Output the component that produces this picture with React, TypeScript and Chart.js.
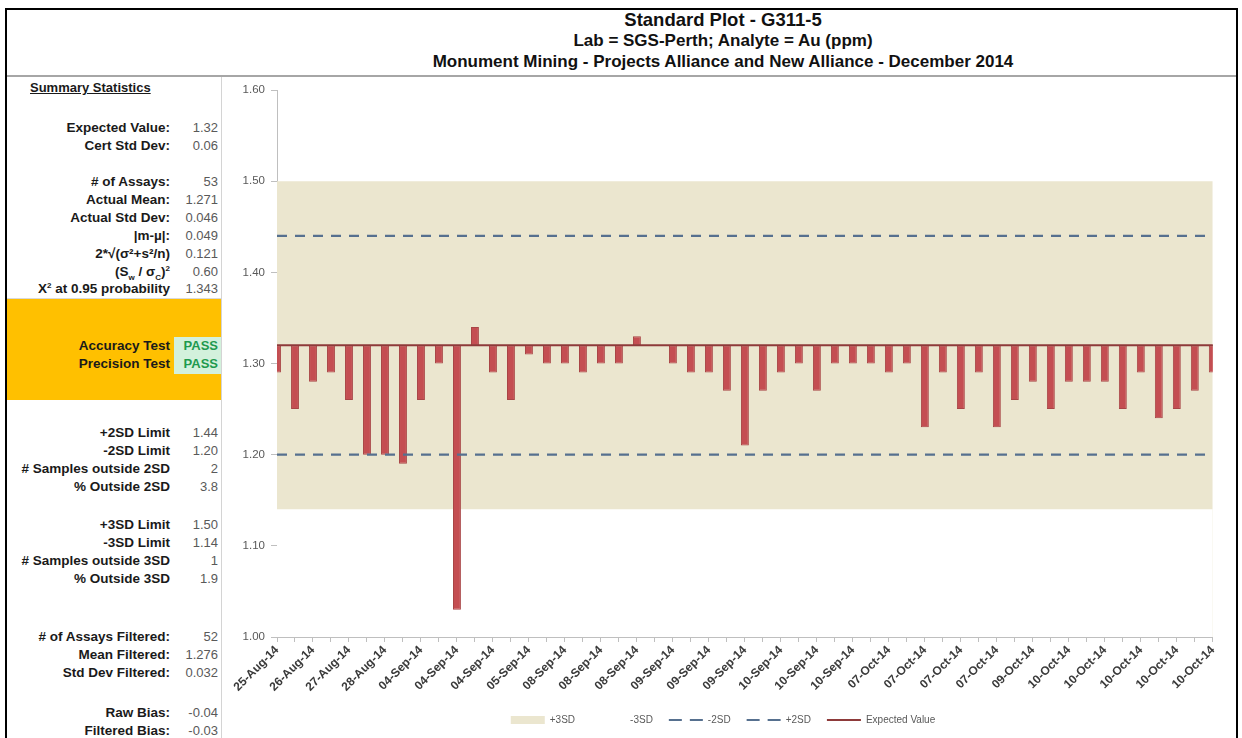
import React, { useEffect, useRef } from 'react';
import { Chart, registerables } from 'chart.js';

Chart.register(...registerables);

// ---------- data ----------
const sampleDates = [
  '25-Aug-14', '25-Aug-14', '26-Aug-14', '26-Aug-14', '27-Aug-14', '27-Aug-14', '28-Aug-14', '28-Aug-14',
  '04-Sep-14', '04-Sep-14', '04-Sep-14', '04-Sep-14', '04-Sep-14', '05-Sep-14', '05-Sep-14', '05-Sep-14',
  '08-Sep-14', '08-Sep-14', '08-Sep-14', '08-Sep-14', '08-Sep-14', '09-Sep-14', '09-Sep-14', '09-Sep-14',
  '09-Sep-14', '09-Sep-14', '09-Sep-14', '10-Sep-14', '10-Sep-14', '10-Sep-14', '10-Sep-14', '10-Sep-14',
  '10-Sep-14', '07-Oct-14', '07-Oct-14', '07-Oct-14', '07-Oct-14', '07-Oct-14', '07-Oct-14', '07-Oct-14',
  '07-Oct-14', '09-Oct-14', '09-Oct-14', '10-Oct-14', '10-Oct-14', '10-Oct-14', '10-Oct-14', '10-Oct-14',
  '10-Oct-14', '10-Oct-14', '10-Oct-14', '10-Oct-14', '10-Oct-14',
];

const assayValues = [
  1.29, 1.25, 1.28, 1.29, 1.26, 1.20, 1.20, 1.19, 1.26, 1.30,
  1.03, 1.34, 1.29, 1.26, 1.31, 1.30, 1.30, 1.29, 1.30, 1.30,
  1.33, 1.32, 1.30, 1.29, 1.29, 1.27, 1.21, 1.27, 1.29, 1.30,
  1.27, 1.30, 1.30, 1.30, 1.29, 1.30, 1.23, 1.29, 1.25, 1.29,
  1.23, 1.26, 1.28, 1.25, 1.28, 1.28, 1.28, 1.25, 1.29, 1.24,
  1.25, 1.27, 1.29,
];

const EXPECTED_VALUE = 1.32;
const PLUS_2SD = 1.44;
const MINUS_2SD = 1.2;
const PLUS_3SD = 1.5;
const MINUS_3SD = 1.14;
const Y_MIN = 1.0;
const Y_MAX = 1.6;
const Y_STEP = 0.1;

const titleLines = [
  'Standard Plot - G311-5',
  'Lab = SGS-Perth; Analyte = Au (ppm)',
  'Monument Mining - Projects Alliance and New Alliance - December 2014',
];

const legendLabels = ['+3SD', '-3SD', '-2SD', '+2SD', 'Expected Value'];

const topStatLabels = [
  'Expected Value:', 'Cert Std Dev:', '# of Assays:', 'Actual Mean:', 'Actual Std Dev:',
  '|m-µ|:', '2*√(σ²+s²/n)', '(Sw / σc)²', 'X² at 0.95 probability',
];
const topStatValues = ['1.32', '0.06', '53', '1.271', '0.046', '0.049', '0.121', '0.60', '1.343'];
const testLabels = ['Accuracy Test', 'Precision Test'];
const testResults = ['PASS', 'PASS'];
const limitLabels = [
  '+2SD Limit', '-2SD Limit', '# Samples outside 2SD', '% Outside 2SD',
  '+3SD Limit', '-3SD Limit', '# Samples outside 3SD', '% Outside 3SD',
];
const limitValues = ['1.44', '1.20', '2', '3.8', '1.50', '1.14', '1', '1.9'];
const filteredLabels = ['# of Assays Filtered:', 'Mean Filtered:', 'Std Dev Filtered:'];
const filteredValues = ['52', '1.276', '0.032'];
const biasLabels = ['Raw Bias:', 'Filtered Bias:'];
const biasValues = ['-0.04', '-0.03'];

// ---------- styles / layout ----------
const FONT = "'Liberation Sans', Arial, Helvetica, sans-serif";
const BAND = '#EBE6CF';
const BAR = '#C44E52';
const BAR_EDGE = '#A94546';
const DASH = '#56708F';
const EV_LINE = '#8E3A3A';

const topRowsY = [128, 146, 182, 200, 218, 236, 254, 272, 289];
const testRowsY = [346, 364];
const limitRowsY = [433, 451, 469, 487, 525, 543, 561, 579];
const filteredRowsY = [637, 655, 673];
const biasRowsY = [713, 731];

const subStyle: React.CSSProperties = { fontSize: '8px', verticalAlign: 'sub', lineHeight: 0 };
const supStyle: React.CSSProperties = { fontSize: '8px', verticalAlign: 'super', lineHeight: 0 };

function renderLabel(text: string) {
  if (text === '(Sw / σc)²') {
    return (
      <>
        (S<span style={subStyle}>w</span> / σ<span style={subStyle}>C</span>)<span style={supStyle}>2</span>
      </>
    );
  }
  if (text === 'X² at 0.95 probability') {
    return (
      <>
        X<span style={supStyle}>2</span> at 0.95 probability
      </>
    );
  }
  return text;
}

function StatRow({ label, value, y, valueColor, valueBold }: { label: string; value: string; y: number; valueColor?: string; valueBold?: boolean }) {
  return (
    <>
      <div
        style={{
          position: 'absolute', left: 0, width: 170, top: y - 9, height: 18, lineHeight: '18px',
          textAlign: 'right', fontWeight: 'bold', fontSize: '13.5px', color: '#1a1a1a', whiteSpace: 'nowrap',
        }}
      >
        {renderLabel(label)}
      </div>
      <div
        style={{
          position: 'absolute', left: 170, width: 48, top: y - 9, height: 18, lineHeight: '18px',
          textAlign: 'right', fontSize: '13px', color: valueColor || '#595959', whiteSpace: 'nowrap',
          fontWeight: valueBold ? 'bold' : 'normal',
        }}
      >
        {value}
      </div>
    </>
  );
}

export default function App() {
  const canvasRef = useRef<HTMLCanvasElement>(null);

  useEffect(() => {
    document.body.style.margin = '0';
    const canvas = canvasRef.current;
    if (!canvas) return;

    const constLine = (v: number) => sampleDates.map(() => v);

    const legendStyles = [
      { fillStyle: BAND, strokeStyle: BAND, lineWidth: 0, pointStyle: 'rect', lineDash: [] as number[] },
      { fillStyle: '#FFFFFF', strokeStyle: '#FFFFFF', lineWidth: 0, pointStyle: 'rect', lineDash: [] as number[] },
      { fillStyle: DASH, strokeStyle: DASH, lineWidth: 2, pointStyle: 'line', lineDash: [13, 8] },
      { fillStyle: DASH, strokeStyle: DASH, lineWidth: 2, pointStyle: 'line', lineDash: [13, 8] },
      { fillStyle: EV_LINE, strokeStyle: EV_LINE, lineWidth: 2, pointStyle: 'line', lineDash: [] as number[] },
    ];

    const chart = new Chart(canvas, {
      type: 'bar',
      data: {
        labels: sampleDates,
        datasets: [
          {
            type: 'line', label: '+3SD', data: constLine(PLUS_3SD), backgroundColor: BAND,
            borderColor: 'transparent', borderWidth: 0, pointRadius: 0, fill: 'start', order: 6,
          } as any,
          {
            type: 'line', label: '-3SD', data: constLine(MINUS_3SD), backgroundColor: '#FFFFFF',
            borderColor: 'transparent', borderWidth: 0, pointRadius: 0, fill: 'start', order: 5,
          } as any,
          {
            type: 'bar', label: 'Assay', data: assayValues.map((v) => [EXPECTED_VALUE, v]),
            backgroundColor: BAR, borderColor: BAR_EDGE, borderWidth: 1, borderSkipped: false,
            categoryPercentage: 0.44, barPercentage: 1, order: 4,
          } as any,
          {
            type: 'line', label: '-2SD', data: constLine(MINUS_2SD), borderColor: DASH, borderWidth: 2.2,
            borderDash: [10, 8], pointRadius: 0, fill: false, order: 3,
          } as any,
          {
            type: 'line', label: '+2SD', data: constLine(PLUS_2SD), borderColor: DASH, borderWidth: 2.2,
            borderDash: [10, 8], pointRadius: 0, fill: false, order: 2,
          } as any,
          {
            type: 'line', label: 'Expected Value', data: constLine(EXPECTED_VALUE), borderColor: EV_LINE,
            borderWidth: 2, pointRadius: 0, fill: false, order: 1,
          } as any,
        ],
      },
      options: {
        responsive: false,
        animation: false,
        layout: { padding: { top: 13, right: 0, bottom: 3, left: 0 } },
        plugins: {
          title: { display: false },
          tooltip: { enabled: false },
          legend: {
            position: 'bottom',
            labels: {
              usePointStyle: true,
              pointStyleWidth: 34,
              boxHeight: 8,
              padding: 16,
              color: '#595959',
              font: { family: FONT, size: 10 },
              generateLabels: () =>
                legendLabels.map((text, i) => ({
                  text,
                  fillStyle: legendStyles[i].fillStyle,
                  strokeStyle: legendStyles[i].strokeStyle,
                  lineWidth: legendStyles[i].lineWidth,
                  lineDash: legendStyles[i].lineDash,
                  pointStyle: legendStyles[i].pointStyle as any,
                  fontColor: '#595959',
                  hidden: false,
                  datasetIndex: i,
                })),
            },
            onClick: () => {},
          },
        },
        scales: {
          x: {
            type: 'category',
            offset: false,
            z: 1,
            grid: { offset: false, drawOnChartArea: false, tickLength: 5, color: '#BFBFBF' },
            border: { color: '#BFBFBF' },
            ticks: {
              autoSkip: false,
              minRotation: 45,
              maxRotation: 45,
              padding: 1,
              color: '#3a3a3a',
              font: { family: FONT, size: 12, weight: 'bold' },
              callback: (_v: any, i: number) => (i % 2 === 0 ? sampleDates[i] : ''),
            },
            afterFit: (s: any) => {
              s.height = 62;
            },
          },
          y: {
            min: Y_MIN,
            max: Y_MAX,
            z: 1,
            grid: { drawOnChartArea: false, tickLength: 6, color: '#BFBFBF' },
            border: { color: '#BFBFBF' },
            ticks: {
              stepSize: Y_STEP,
              padding: 6,
              color: '#595959',
              font: { family: FONT, size: 11.5 },
              callback: (v: any) => Number(v).toFixed(2),
            },
            afterFit: (s: any) => {
              s.width = 55;
            },
          },
        },
      } as any,
    });

    return () => chart.destroy();
  }, []);

  return (
    <div
      style={{
        position: 'relative', width: 1242, height: 738, overflow: 'hidden', background: '#fff',
        fontFamily: FONT,
      }}
    >
      {/* frame */}
      <div
        style={{
          position: 'absolute', left: 5, top: 8, width: 1229, height: 740,
          border: '2px solid #000', boxSizing: 'content-box',
        }}
      />
      {/* titles */}
      {titleLines.map((t, i) => (
        <div
          key={i}
          style={{
            position: 'absolute', left: 323, width: 800, textAlign: 'center',
            top: [8, 29, 50][i], height: 24, lineHeight: '24px',
            fontWeight: 'bold', fontSize: i === 0 ? '18.5px' : '17px', color: '#111', whiteSpace: 'nowrap',
          }}
        >
          {t}
        </div>
      ))}
      {/* separator */}
      <div style={{ position: 'absolute', left: 7, top: 75, width: 1229, height: 2, background: '#A6A6A6' }} />
      {/* left panel divider */}
      <div style={{ position: 'absolute', left: 221, top: 77, width: 1, height: 661, background: '#D4D4D4' }} />

      {/* orange tests block */}
      <div style={{ position: 'absolute', left: 7, top: 299, width: 214, height: 101, background: '#FFC000' }} />
      <div style={{ position: 'absolute', left: 174, top: 337, width: 47, height: 37, background: '#D3F1DC' }} />
      <div style={{ position: 'absolute', left: 7, top: 298, width: 214, height: 1, background: '#D9D9D9' }} />

      {/* summary heading */}
      <div
        style={{
          position: 'absolute', left: 30, top: 79, height: 18, lineHeight: '18px', fontWeight: 'bold',
          fontSize: '13px', textDecoration: 'underline', color: '#1a1a1a', whiteSpace: 'nowrap',
        }}
      >
        Summary Statistics
      </div>

      {topStatLabels.map((l, i) => (
        <StatRow key={'t' + i} label={l} value={topStatValues[i]} y={topRowsY[i]} />
      ))}
      {testLabels.map((l, i) => (
        <StatRow key={'p' + i} label={l} value={testResults[i]} y={testRowsY[i]} valueColor="#1E9A4E" valueBold />
      ))}
      {limitLabels.map((l, i) => (
        <StatRow key={'l' + i} label={l} value={limitValues[i]} y={limitRowsY[i]} />
      ))}
      {filteredLabels.map((l, i) => (
        <StatRow key={'f' + i} label={l} value={filteredValues[i]} y={filteredRowsY[i]} />
      ))}
      {biasLabels.map((l, i) => (
        <StatRow key={'b' + i} label={l} value={biasValues[i]} y={biasRowsY[i]} />
      ))}

      <canvas
        ref={canvasRef}
        width={1002}
        height={661}
        style={{ position: 'absolute', left: 222, top: 77, width: 1002, height: 661 }}
      />
    </div>
  );
}
